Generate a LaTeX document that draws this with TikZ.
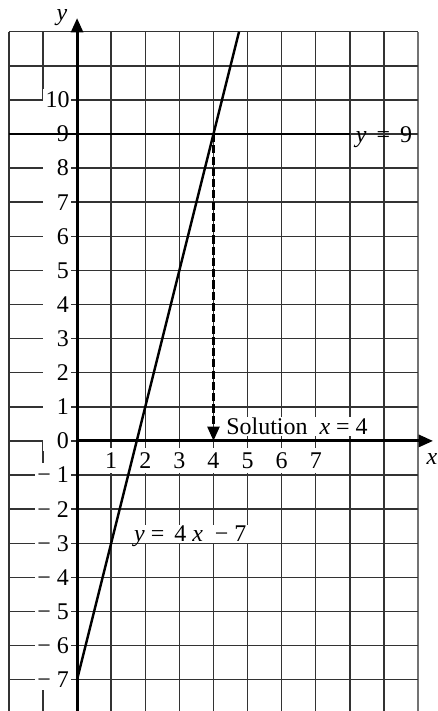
\documentclass[tikz,border=0pt]{standalone}
\usepackage{fontspec}
\setmainfont{Liberation Serif}
\usetikzlibrary{arrows.meta}

\begin{document}
\begin{tikzpicture}[x=0.5cm,y=0.5cm,line width=0.6pt,
    font=\fontsize{10}{12}\selectfont,
    gridline/.style={black!80,line width=0.6pt},
    axis/.style={line width=1.2pt,-{Triangle[length=6pt,width=5pt]}},
    numlab/.style={fill=white,inner sep=1pt},
    poslab/.style={numlab,anchor=east,text width=0.34cm,align=right}]
    \useasboundingbox (-2.26,-7.92) rectangle (10.56,12.93);
    % grid
    \foreach \x in {-2,1,2,3,4,5,6,7,8,9}
        \draw [gridline] (\x,-7.92) -- (\x,12);
    \draw [gridline,black!55] (10,-7.92) -- (10,12);
    \foreach \y in {-7,...,12}
        \draw [gridline] (-2,\y) -- (10,\y);
    \draw [gridline] (-1,12) -- (-1,10);
    \draw [gridline] (-1,0) -- (-1,-0.65);
    \draw [gridline] (-1,-7.15) -- (-1,-7.92);
    % scale labels
    \foreach \k in {0,...,8,10}
        \node [poslab] (yl\k) at (-0.15,\k) {\k};
    \foreach \k in {1,...,7}
        \node [numlab,anchor=east] (yn\k) at (-0.15,-\k) {− \k};
    \foreach \k in {1,...,7}
        \node [numlab,inner sep=2pt] (xl\k) at (\k,-0.57) {\k};
    % line y = 9
    \coordinate (Ha) at (-2,9);
    \coordinate (Hb) at (8,9);
    \draw [line width=1.2pt] (Ha) -- (Hb);
    \node [anchor=east,inner sep=1pt] (yl9) at (-0.15,9) {9};
    \node [anchor=base] (lab9) at (9.0,8.74) {\textit{y}\ \,=\ \,9};
    % axes
    \coordinate (O) at (0,0);
    \coordinate (Yb) at (0,-7.92);
    \coordinate (Yt) at (0,12.4);
    \coordinate (Xt) at (10.44,0);
    \draw [axis] (Yb) -- (Yt);
    \draw [axis] (O) -- (Xt);
    \node (xlab) at (10.41,-0.53) {\textit{x}};
    \node (ylab) at (-0.44,12.42) {\textit{y}};
    % line y = 4x - 7
    \coordinate (Fb) at (0,-7);
    \coordinate (Ft) at (4.75,12);
    \draw [line width=1pt] (Fb) -- (Ft);
    \node [anchor=base west,fill=white,inner sep=0.5pt,text depth=0pt] (flab) at (1.62,-2.96)
        {\textit{y} = \,4 \textit{x}\ \ − 7};
    % solution
    \coordinate (P) at (4,9);
    \coordinate (S) at (4,0);
    \draw [line width=1.1pt,dash pattern=on 3.4pt off 1.3pt,-{Triangle[length=6pt,width=5pt]}] (P) -- (S);
    \node [anchor=base west,fill=white,inner sep=0.5pt] (sol) at (4.32,0.18)
        {Solution\ \ \textit{x} = 4};
\end{tikzpicture}
\end{document}
